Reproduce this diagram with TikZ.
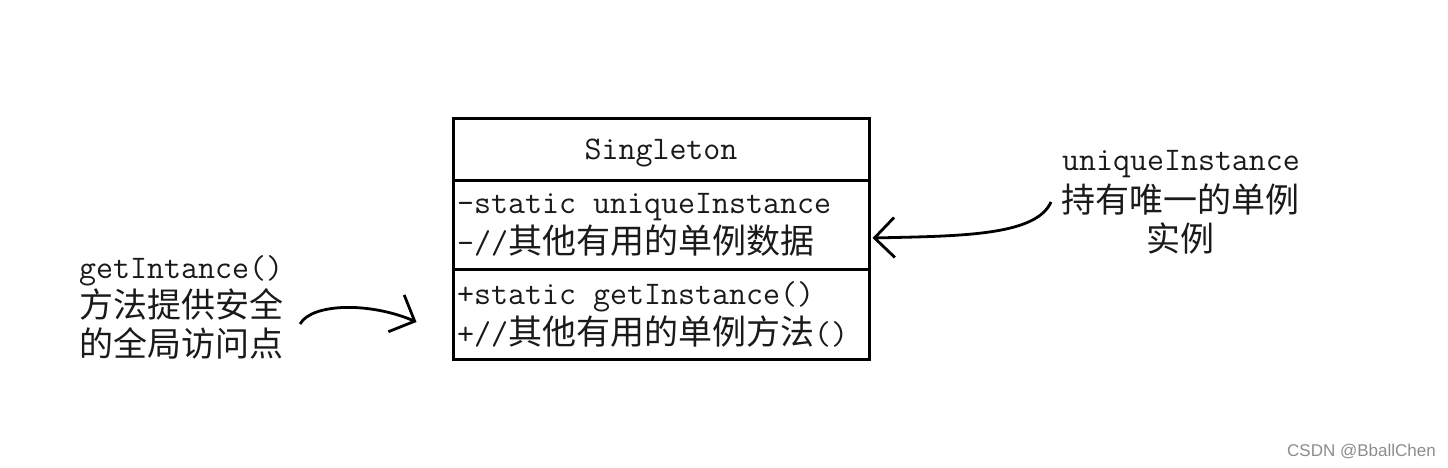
\documentclass[tikz,border=0pt]{standalone}
\usepackage{fontspec}
\newfontfamily\cjk{Noto Sans CJK SC}
\newfontfamily\wmfont{Liberation Sans}
\usetikzlibrary{arrows.meta}
\definecolor{txt}{HTML}{1A1A1A}
\tikzset{
  box/.style={draw=black, line width=3pt, minimum width=416pt, inner sep=0pt, fill=white},
  lt/.style={font=\ttfamily\fontsize{33}{38}\selectfont, text=txt, inner sep=0pt},
  ct/.style={font=\cjk\fontsize{34}{38}\selectfont, text=txt, inner sep=0pt},
  arr/.style={line width=2.8pt, -{Straight Barb[length=20pt, width=40pt]}},
}
\newcommand{\tx}[1]{{\ttfamily\fontsize{33}{38}\selectfont #1}}
\begin{document}
\begin{tikzpicture}[x=1pt, y=-1pt]
\useasboundingbox (0,0) rectangle (1448,468);
% class box
\node[box, minimum height=61pt] (title) at (661,149.5) {};
\node[box, minimum height=89pt] (attrs) at (661,224.5) {};
\node[box, minimum height=90pt] (methods) at (661,314) {};
\node[lt, anchor=base] (tname) at (661,159) {Singleton};
\node[lt, anchor=base west] (a1) at (457,213) {-static uniqueInstance};
\node[ct, anchor=base west] (a2) at (457,253) {\tx{-//}其他有用的单例数据};
\node[lt, anchor=base west] (m1) at (457,304) {+static getInstance()};
\node[ct, anchor=base west] (m2) at (457,344) {\tx{+//}其他有用的单例方法\tx{()}};
% left label
\node[lt, anchor=base west] (l1) at (79,278) {getIntance()};
\node[ct, anchor=base west] (l2) at (79,317) {方法提供安全};
\node[ct, anchor=base west] (l3) at (79,356) {的全局访问点};
% right label
\node[lt, anchor=base] (r1) at (1181,171) {uniqueInstance};
\node[ct, anchor=base] (r2) at (1180,212) {持有唯一的单例};
\node[ct, anchor=base] (r3) at (1180,251) {实例};
% arrows
\coordinate (ls) at (300,324);
\coordinate (le) at ([shift={(-35,8)}]methods.west);
\draw[arr] (ls) .. controls (312,303) and (370,302) .. (le);
\coordinate (rs) at (1051,202);
\coordinate (re) at ([shift={(2,13.5)}]attrs.east);
\draw[arr] (rs) .. controls (1036,236) and (960,236) .. (re);
% watermark
\node[font=\wmfont\fontsize{17}{20}\selectfont, text=black!45, anchor=base east, inner sep=0pt] (wm) at (1436,456) {CSDN @BballChen};
\end{tikzpicture}
\end{document}
